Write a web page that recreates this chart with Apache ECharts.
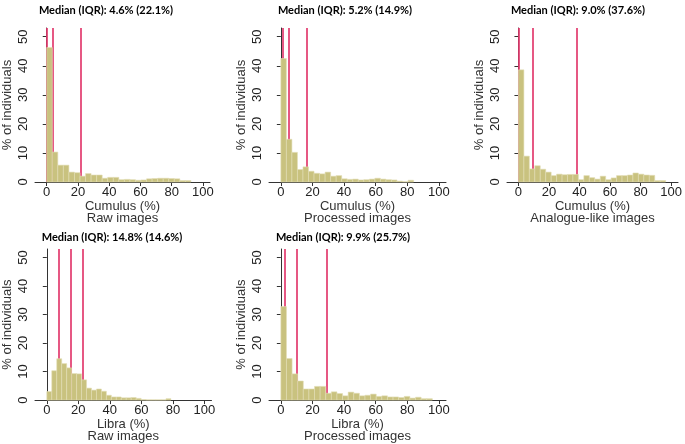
<!DOCTYPE html>
<html>
<head>
<meta charset="utf-8">
<script src="https://cdn.jsdelivr.net/npm/echarts@6/dist/echarts.min.js"></script>
<style>
html,body{margin:0;padding:0;background:#fff;}
#main{width:685px;height:444px;}
</style>
</head>
<body>
<div id="main"></div>
<script>
// ---- data ----
const titles = [
  'Median (IQR): 4.6% (22.1%)',
  'Median (IQR): 5.2% (14.9%)',
  'Median (IQR): 9.0% (37.6%)',
  'Median (IQR): 14.8% (14.6%)',
  'Median (IQR): 9.9% (25.7%)'
];
const xNames = ['Cumulus (%)', 'Cumulus (%)', 'Cumulus (%)', 'Libra (%)', 'Libra (%)'];
const subNames = ['Raw images', 'Processed images', 'Analogue-like images', 'Raw images', 'Processed images'];
const yName = '% of individuals';
const xTicks = [0, 20, 40, 60, 80, 100];
const yTicks = [0, 10, 20, 30, 40, 50];

// bin widths (%) per panel
const binWidth = [3.55, 3.5, 3.57, 3.15, 3.55];

const cumulusRaw = [46.3, 10.3, 5.8, 5.8, 3.4, 3.2, 2.0, 2.9, 2.4, 2.4, 1.3, 1.6, 1.6, 0.8, 0.9, 0.8, 0.6, 0.7, 1.1, 1.2, 1.3, 1.3, 1.2, 1.1, 0.5, 0.5];
const cumulusProc = [42.5, 14.7, 10.2, 4.3, 5.2, 3.7, 3.0, 2.8, 3.4, 2.0, 2.2, 1.1, 0.9, 1.0, 0.7, 0.8, 1.0, 1.3, 1.0, 0.8, 0.7, 0.3, 0.1, 0.6];
const cumulusAnalog = [38.6, 8.9, 4.5, 5.6, 4.4, 3.4, 2.2, 2.7, 2.5, 2.6, 2.6, 0.8, 2.2, 1.5, 1.0, 2.0, 0.8, 1.4, 2.2, 2.2, 2.4, 3.1, 2.7, 2.4, 2.3, 0.5, 0.5];
const libraRaw = [3.0, 10.3, 14.5, 12.8, 11.3, 9.3, 9.2, 7.1, 4.2, 3.5, 3.9, 3.1, 1.7, 1.1, 1.1, 0.8, 0.8, 0.9, 0.6, 0.2, 0.1, 0.1, 0.1, 0.1, 0.5];
const libraProc = [32.8, 14.6, 9.2, 6.7, 3.9, 3.9, 4.8, 4.8, 2.4, 2.9, 2.3, 1.5, 2.8, 2.4, 1.5, 1.7, 2.1, 1.3, 1.5, 1.1, 1.1, 0.9, 1.3, 0.7, 1.0, 0.5, 0.5];

// quartiles: Q1, median, Q3
const quartiles = [
  [0.3, 4.6, 22.4],
  [1.4, 5.2, 16.3],
  [0.5, 9.0, 38.1],
  [8.1, 14.8, 22.7],
  [3.0, 9.9, 28.7]
];

const panels = [cumulusRaw, cumulusProc, cumulusAnalog, libraRaw, libraProc];

// ---- layout ----
const grids = [
  {left: 33, top: 28, width: 177, height: 154},
  {left: 269, top: 28, width: 177, height: 154},
  {left: 507, top: 28, width: 175, height: 154},
  {left: 32.5, top: 249, width: 179, height: 153},
  {left: 269, top: 249, width: 177, height: 153}
];
const titlePos = [
  {x: 101, y: 0}, {x: 340, y: 0}, {x: 573, y: 0}, {x: 107, y: 227}, {x: 338, y: 227}
];

const barColor = '#c9c27f';
const lineColor = '#e23a6e';
const axisColor = '#333';
const font = 'Liberation Sans, Arial, sans-serif';
const yMax = 53;

const option = {
  animation: false,
  backgroundColor: '#fff',
  title: titles.map((t, i) => ({
    text: t,
    left: titlePos[i].x,
    top: titlePos[i].y,
    textAlign: 'center',
    textStyle: {fontFamily: 'Lato, sans-serif', fontWeight: 'bold', fontSize: 11, color: '#000'}
  })),
  grid: grids,
  xAxis: grids.map((g, i) => ({
    type: 'value', gridIndex: i, min: -7.5, max: 104.5,
    name: xNames[i] + '\n' + subNames[i],
    nameLocation: 'middle', nameGap: 17,
    nameTextStyle: {fontFamily: font, fontSize: 13, color: '#333', lineHeight: 12},
    axisLine: {show: true, lineStyle: {color: axisColor, width: 1}},
    axisTick: {show: true, length: 4, customValues: xTicks, lineStyle: {color: axisColor}},
    axisLabel: {customValues: xTicks, fontFamily: font, fontSize: 13, color: '#222', margin: 4},
    splitLine: {show: false}
  })),
  yAxis: grids.map((g, i) => ({
    type: 'value', gridIndex: i, min: 0, max: yMax,
    name: yName, nameLocation: 'middle', nameGap: 21,
    nameTextStyle: {fontFamily: font, fontSize: 13, color: '#333'},
    axisLine: {show: true, lineStyle: {color: axisColor, width: 1}},
    axisTick: {show: true, length: 4, customValues: yTicks, lineStyle: {color: axisColor}},
    axisLabel: {customValues: yTicks, rotate: 90, fontFamily: font, fontSize: 13, color: '#222', margin: 5},
    splitLine: {show: false}
  })),
  series: []
};

panels.forEach((vals, i) => {
  const w = binWidth[i];
  const data = vals.map((v, k) => [k * w, (k + 1) * w, v]);
  // quartile lines (behind bars)
  option.series.push({
    type: 'custom', xAxisIndex: i, yAxisIndex: i, z: 1, silent: true,
    data: quartiles[i].map(q => [q]),
    encode: {x: 0},
    renderItem: function (params, api) {
      const a = api.coord([api.value(0), 0]);
      const b = api.coord([api.value(0), yMax]);
      const x = 2 * Math.floor(a[0] / 2) + 1;
      return {
        type: 'line',
        shape: {x1: x, y1: a[1], x2: x, y2: b[1]},
        style: {stroke: lineColor, lineWidth: 1.7}
      };
    }
  });
  option.series.push({
    type: 'custom', xAxisIndex: i, yAxisIndex: i, z: 2,
    data: data,
    encode: {x: [0, 1], y: 2},
    renderItem: function (params, api) {
      const p0 = api.coord([api.value(0), api.value(2)]);
      const p1 = api.coord([api.value(1), 0]);
      return {
        type: 'rect',
        shape: {x: p0[0], y: p0[1], width: p1[0] - p0[0], height: p1[1] - p0[1]},
        style: {fill: barColor, stroke: '#e2ddb6', lineWidth: 0.6}
      };
    }
  });
});

const chart = echarts.init(document.getElementById('main'), null, {renderer: 'canvas'});
chart.setOption(option);
</script>
</body>
</html>
